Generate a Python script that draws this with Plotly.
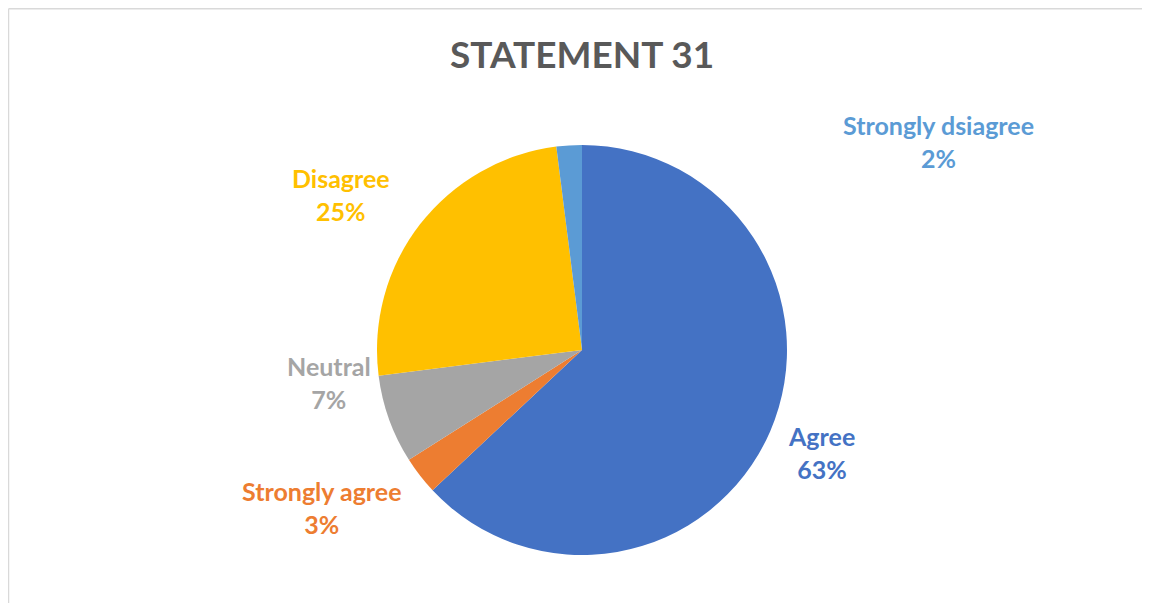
import plotly.graph_objects as go

labels = ["Agree", "Strongly agree", "Neutral", "Disagree", "Strongly dsiagree"]
values = [63, 3, 7, 25, 2]
colors = ["#4472C4", "#ED7D31", "#A5A5A5", "#FFC000", "#5B9BD5"]
pct_text = ["63%", "3%", "7%", "25%", "2%"]

# page offset (body margin) and figure size that fits without scrolling
OX, OY = 8, 8
W, H = 1150 - 2 * OX, 611 - 2 * OY

def px(x):
    return (x - OX) / W

def py(y):
    return 1 - (y - OY) / H

# label centre positions in page pixels
label_px = [(821, 452), (322, 507), (329, 382), (341, 194), (938, 141)]

fig = go.Figure(go.Pie(
    labels=labels, values=values, sort=False, direction="clockwise", rotation=0,
    marker=dict(colors=colors, line=dict(color="white", width=0)),
    textinfo="none", hoverinfo="label+percent",
    domain=dict(x=[px(377), px(787)], y=[py(555), py(145)]),
    showlegend=False,
))

for lab, p, (x, y), c in zip(labels, pct_text, label_px, colors):
    fig.add_annotation(x=px(x), y=py(y), xref="paper", yref="paper", showarrow=False,
                       xanchor="center", yanchor="middle",
                       text=f"{lab}<br>{p}", align="center",
                       font=dict(family="Lato", size=25, color=c, weight="bold"))

fig.add_annotation(x=px(582), y=py(54), xref="paper", yref="paper", showarrow=False,
                   xanchor="center", yanchor="middle",
                   text="STATEMENT 31",
                   font=dict(family="Lato", size=37, color="#595959", weight="bold"))

border = dict(color="#D9D9D9", width=1.5)
fig.add_shape(type="line", xref="paper", yref="paper",
              x0=px(8.5), y0=0, x1=px(8.5), y1=py(8.8), line=border)
fig.add_shape(type="line", xref="paper", yref="paper",
              x0=px(8.5), y0=py(8.8), x1=1.0, y1=py(8.8), line=border)

fig.update_layout(width=W, height=H, margin=dict(l=0, r=0, t=0, b=0),
                  paper_bgcolor="white", plot_bgcolor="white")
fig.write_html("out.html")
